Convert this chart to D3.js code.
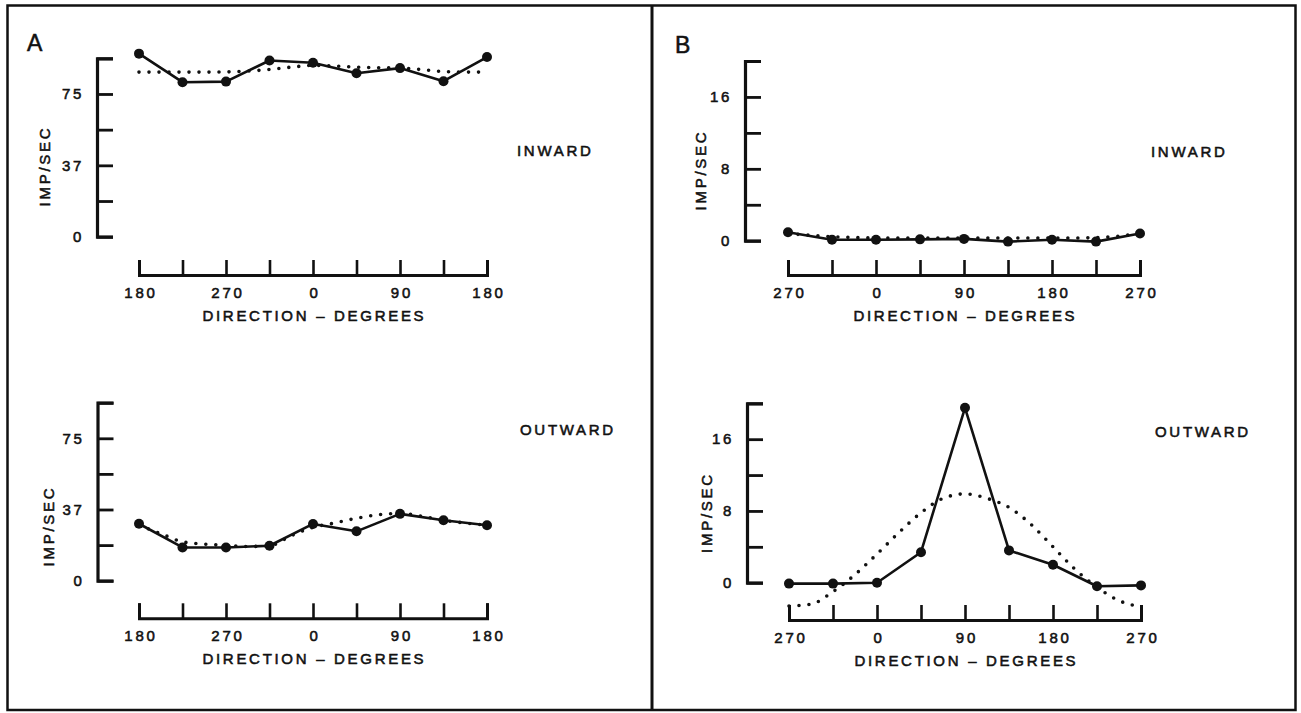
<!DOCTYPE html>
<html>
<head>
<meta charset="utf-8">
<script src="https://cdn.jsdelivr.net/npm/d3@7"></script>
<style>
  html, body { margin: 0; padding: 0; background: #fff; }
  svg { display: block; }
  text { font-family: "Liberation Sans", Arial, Helvetica, sans-serif; fill: #111; stroke: #111; stroke-width: 0.55px; }
</style>
</head>
<body>
<script>
// ---------------- DATA ----------------
// Direction categories (degrees) along the x axis of each panel
const directionsA = [180, 225, 270, 315, 0, 45, 90, 135, 180];
const directionsB = [270, 315, 0, 45, 90, 135, 180, 225, 270];
const xTickLabelsA = ["180", "", "270", "", "0", "", "90", "", "180"];
const xTickLabelsB = ["270", "", "0", "", "90", "", "180", "", "270"];

// Y axis ticks (imp/sec)
const yTicksA = [0, 18.75, 37.5, 56.25, 75, 93.75];
const yTickLabelsA = ["0", "", "37", "", "75", ""];
const yTicksB = [0, 4, 8, 12, 16, 20];
const yTickLabelsB = ["0", "", "8", "", "16", ""];

// Measured responses (solid line with dots), one value per direction
const aInward  = [96.2, 81.2, 81.5, 92.6, 91.4, 85.9, 88.6, 81.7, 94.4];
const aOutward = [30.0, 17.5, 17.5, 18.4, 29.9, 26.0, 35.2, 31.8, 29.2];
const bInward  = [0.95, 0.1, 0.1, 0.15, 0.2, -0.1, 0.1, -0.1, 0.8];
const bOutward = [-0.1, -0.1, 0.0, 3.4, 19.5, 3.6, 2.0, -0.4, -0.3];

// Fitted curves (dotted), read every 22.5 degrees (17 samples)
const aInwardFit  = [86.5, 86.5, 86.5, 86.5, 86.6, 87.0, 87.9, 89.1, 90.0, 89.7, 89.1, 88.8, 88.6, 87.8, 86.8, 86.5, 86.5];
const aOutwardFit = [29.2, 24.8, 20.5, 19.3, 18.6, 18.0, 18.4, 23.7, 28.1, 30.4, 32.9, 34.7, 35.4, 34.0, 31.8, 30.4, 29.2];
const bInwardFit  = [0.8, 0.6, 0.45, 0.35, 0.3, 0.3, 0.3, 0.3, 0.3, 0.3, 0.3, 0.3, 0.3, 0.3, 0.35, 0.5, 0.8];
const bOutwardFit = [-2.6, -2.4, -1.0, 0.9, 3.2, 5.6, 7.8, 9.4, 9.9, 9.4, 8.4, 6.5, 4.0, 1.5, -0.5, -2.0, -2.7];

const panelLetters = ["A", "B"];
const conditionLabels = ["INWARD", "OUTWARD"];
const yTitle = "IMP/SEC";
const xTitle = "DIRECTION \u2013 DEGREES";

// ---------------- LAYOUT ----------------
const W = 1301, H = 713;
const svg = d3.select("body").append("svg").attr("width", W).attr("height", H);

// Frame
svg.append("rect").attr("x", 7.5).attr("y", 5.5).attr("width", 1288).attr("height", 704.5)
  .attr("fill", "none").attr("stroke", "#111").attr("stroke-width", 2.5);
svg.append("line").attr("x1", 652).attr("x2", 652).attr("y1", 5).attr("y2", 710)
  .attr("stroke", "#111").attr("stroke-width", 3);

// Panel letters
svg.append("text").attr("x", 27).attr("y", 51).style("font-size", "23px").text(panelLetters[0]);
svg.append("text").attr("x", 675).attr("y", 53).style("font-size", "23px").text(panelLetters[1]);

const panels = [
  { values: aInward, fit: aInwardFit, dirs: directionsA, xLabels: xTickLabelsA,
    yTicks: yTicksA, yLabels: yTickLabelsA, yMax: 93.75,
    axisX: 97, y0: 236.7, yTop: 58.3, x0: 139, x1: 487, xBase: 275,
    yTitleX: 49.5, yTitleY: 167.5, cond: conditionLabels[0], condX: 517, condY: 155.5 },
  { values: aOutward, fit: aOutwardFit, dirs: directionsA, xLabels: xTickLabelsA,
    yTicks: yTicksA, yLabels: yTickLabelsA, yMax: 93.75,
    axisX: 97.5, y0: 580.7, yTop: 402.7, x0: 139, x1: 487, xBase: 618.3,
    yTitleX: 53.5, yTitleY: 527.5, cond: conditionLabels[1], condX: 520, condY: 435 },
  { values: bInward, fit: bInwardFit, dirs: directionsB, xLabels: xTickLabelsB,
    yTicks: yTicksB, yLabels: yTickLabelsB, yMax: 20,
    axisX: 745, y0: 240.7, yTop: 61, x0: 788, x1: 1140, xBase: 275,
    yTitleX: 705.5, yTitleY: 171.5, cond: conditionLabels[0], condX: 1151, condY: 156.5 },
  { values: bOutward, fit: bOutwardFit, dirs: directionsB, xLabels: xTickLabelsB,
    yTicks: yTicksB, yLabels: yTickLabelsB, yMax: 20,
    axisX: 747, y0: 582.7, yTop: 403.3, x0: 789, x1: 1141, xBase: 620,
    yTitleX: 711.5, yTitleY: 514, cond: conditionLabels[1], condX: 1155, condY: 437 }
];

const FONT = "15px";
const LS = "2.7px";

panels.forEach(p => {
  const g = svg.append("g");
  const x = d3.scaleLinear().domain([0, p.dirs.length - 1]).range([p.x0, p.x1]);
  const y = d3.scaleLinear().domain([0, p.yMax]).range([p.y0, p.yTop]);

  // Y axis: ticks pointing inward (right), labels on the left
  const yAxis = d3.axisLeft(y).tickValues(p.yTicks)
    .tickSize(-16).tickSizeOuter(-16).tickPadding(13)
    .tickFormat((d, i) => p.yLabels[i]);
  const ya = g.append("g").attr("transform", `translate(${p.axisX},0)`).call(yAxis);
  ya.select(".domain").attr("stroke", "#111").attr("stroke-width", 3.2);
  ya.selectAll(".tick line").attr("stroke", "#111").attr("stroke-width", 2.8);
  ya.selectAll(".tick text").style("font-size", FONT).style("letter-spacing", LS)
    .attr("fill", "#111");
  ya.attr("font-family", null);

  // X axis: separate baseline with upward ticks
  const xAxis = d3.axisBottom(x).tickValues(d3.range(p.dirs.length))
    .tickSize(-15).tickSizeOuter(-15).tickPadding(12)
    .tickFormat((d, i) => p.xLabels[i]);
  const xa = g.append("g").attr("transform", `translate(0,${p.xBase})`).call(xAxis);
  xa.select(".domain").attr("stroke", "#111").attr("stroke-width", 3);
  xa.selectAll(".tick line").attr("stroke", "#111").attr("stroke-width", 2.6);
  xa.selectAll(".tick text").style("font-size", FONT).style("letter-spacing", LS)
    .attr("fill", "#111").attr("dx", "1.4px");
  xa.attr("font-family", null);

  // Axis titles
  g.append("text")
    .attr("transform", `translate(${p.yTitleX},${p.yTitleY}) rotate(-90)`)
    .attr("text-anchor", "middle").style("font-size", FONT).style("letter-spacing", LS)
    .attr("dx", "1.4px")
    .text(yTitle);
  g.append("text")
    .attr("x", (p.x0 + p.x1) / 2 + 1.4).attr("y", p.xBase + 45.5)
    .attr("text-anchor", "middle").style("font-size", FONT).style("letter-spacing", LS)
    .text(xTitle);

  // Condition label
  g.append("text").attr("x", p.condX).attr("y", p.condY)
    .style("font-size", FONT).style("letter-spacing", LS).text(p.cond);

  // Dotted fitted curve
  const fitLine = d3.line()
    .x((d, i) => x(i * (p.dirs.length - 1) / (p.fit.length - 1)))
    .y(d => y(d))
    .curve(d3.curveMonotoneX);
  g.append("path").datum(p.fit).attr("d", fitLine)
    .attr("fill", "none").attr("stroke", "#111").attr("stroke-width", 3.6)
    .attr("stroke-linecap", "round").attr("stroke-dasharray", "0 10");

  // Solid measured line
  const line = d3.line().x((d, i) => x(i)).y(d => y(d));
  g.append("path").datum(p.values).attr("d", line)
    .attr("fill", "none").attr("stroke", "#111").attr("stroke-width", 2.6)
    .attr("stroke-linejoin", "round");
  g.selectAll("circle.pt").data(p.values).join("circle").attr("class", "pt")
    .attr("cx", (d, i) => x(i)).attr("cy", d => y(d)).attr("r", 5).attr("fill", "#111");
});
</script>
</body>
</html>
